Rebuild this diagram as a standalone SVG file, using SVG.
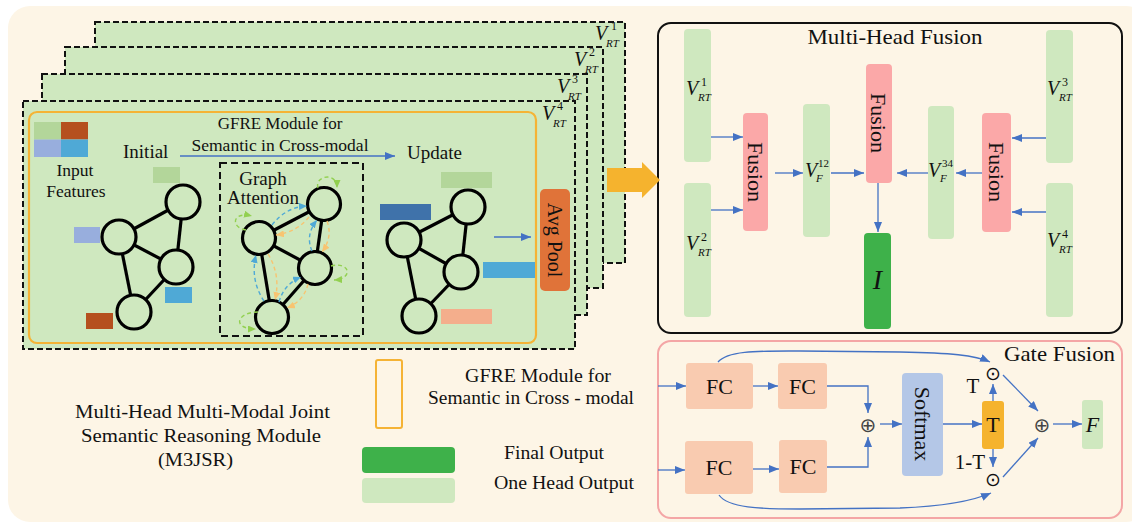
<svg xmlns="http://www.w3.org/2000/svg" width="1132" height="526" viewBox="0 0 1132 526">
<defs>
<style>
.t{font-family:"Liberation Serif","Times New Roman",serif;fill:#111}
.it{font-style:italic}
.panel{fill:#CFE8BF;stroke:#111;stroke-width:2;stroke-dasharray:6,3}
.node{fill:#CFE8BF;stroke:#000;stroke-width:3.2}
.edge{stroke:#000;stroke-width:3.2}
.bar{fill:#CFE8BF}
.fus{fill:#FBA8A8}
.fc{fill:#F9CBB0}
.ln{stroke:#4472C4;stroke-width:1.3;fill:none}
.bd{stroke-dasharray:4,3;stroke-width:1.4;fill:none}
</style>
<marker id="ab" markerUnits="userSpaceOnUse" markerWidth="10" markerHeight="8" refX="10" refY="4" orient="auto"><path d="M0,0 L10,4 L0,8 z" fill="#4472C4"/></marker>
<marker id="mb" markerUnits="userSpaceOnUse" markerWidth="8" markerHeight="7" refX="8" refY="3.5" orient="auto"><path d="M0,0 L8,3.5 L0,7 z" fill="#4FA9D6"/></marker>
<marker id="mo" markerUnits="userSpaceOnUse" markerWidth="8" markerHeight="7" refX="8" refY="3.5" orient="auto"><path d="M0,0 L8,3.5 L0,7 z" fill="#F8C471"/></marker>
<marker id="mg" markerUnits="userSpaceOnUse" markerWidth="8" markerHeight="7" refX="8" refY="3.5" orient="auto"><path d="M0,0 L8,3.5 L0,7 z" fill="#92D050"/></marker>
</defs>

<rect x="8" y="6" width="1140" height="516" rx="22" fill="#FDF5E6"/>

<g id="m3jsr-stack">
<rect class="panel" x="95" y="22" width="530" height="241"/>
<rect class="panel" x="65" y="47" width="538" height="241"/>
<rect class="panel" x="42" y="74" width="545" height="241"/>
<rect class="panel" x="23" y="101" width="552" height="248"/>
<text class="t it" x="595" y="40" font-size="20">V</text><text class="t" x="611" y="30" font-size="12">1</text><text class="t it" x="606" y="47" font-size="11">RT</text>
<text class="t it" x="574" y="66" font-size="20">V</text><text class="t" x="589" y="56" font-size="12">2</text><text class="t it" x="585" y="73" font-size="11">RT</text>
<text class="t it" x="557" y="93" font-size="20">V</text><text class="t" x="572" y="83" font-size="12">3</text><text class="t it" x="568" y="100" font-size="11">RT</text>
<text class="t it" x="542" y="120" font-size="20">V</text><text class="t" x="557" y="110" font-size="12">4</text><text class="t it" x="553" y="127" font-size="11">RT</text>
</g>

<g id="gfre-module">
<rect x="29" y="112" width="507" height="231" rx="8" fill="none" stroke="#F5B335" stroke-width="2.2"/>
<rect x="34" y="122" width="27" height="17.5" fill="#B3D69A"/>
<rect x="61" y="122" width="27" height="17.5" fill="#B5501E"/>
<rect x="34" y="139.5" width="27" height="17.5" fill="#98AEDD"/>
<rect x="61" y="139.5" width="27" height="17.5" fill="#4FA9D6"/>
<text class="t" x="75" y="176" font-size="17.5" text-anchor="middle">Input</text>
<text class="t" x="76" y="197" font-size="17.5" text-anchor="middle">Features</text>
<text class="t" x="123" y="158" font-size="19">Initial</text>
<text class="t" x="280" y="129" font-size="17" text-anchor="middle">GFRE Module for</text>
<text class="t" x="280" y="151" font-size="17" text-anchor="middle" textLength="177" lengthAdjust="spacingAndGlyphs">Semantic in Cross-modal</text>
<text class="t" x="407" y="159" font-size="19">Update</text>
</g>

<g id="initial-graph">
<rect x="153" y="167" width="27" height="16" fill="#B3D69A"/>
<rect x="74" y="227" width="26" height="16" fill="#98AEDD"/>
<rect x="165" y="287" width="27" height="16" fill="#4FA9D6"/>
<rect x="86" y="313" width="27" height="16" fill="#B5501E"/>
<line class="edge" x1="119" y1="237" x2="183" y2="202"/>
<line class="edge" x1="119" y1="237" x2="176" y2="267"/>
<line class="edge" x1="183" y1="202" x2="176" y2="267"/>
<line class="edge" x1="119" y1="237" x2="134" y2="312"/>
<line class="edge" x1="176" y1="267" x2="134" y2="312"/>
<circle cx="183" cy="202" r="17" class="node"/>
<circle cx="119" cy="237" r="17" class="node"/>
<circle cx="176" cy="267" r="17" class="node"/>
<circle cx="134" cy="312" r="17" class="node"/>
</g>

<g id="graph-attention">
<rect x="220" y="163" width="143" height="173" fill="none" stroke="#111" stroke-width="2" stroke-dasharray="7,4"/>
<text class="t" x="263" y="185" font-size="19" text-anchor="middle">Graph</text>
<text class="t" x="263" y="204" font-size="19" text-anchor="middle">Attention</text>
<line class="edge" x1="324" y1="204" x2="259" y2="238"/>
<line class="edge" x1="324" y1="204" x2="315" y2="268"/>
<line class="edge" x1="259" y1="238" x2="315" y2="268"/>
<line class="edge" x1="259" y1="238" x2="272" y2="317"/>
<line class="edge" x1="315" y1="268" x2="272" y2="317"/>
<circle cx="324" cy="204" r="16.5" class="node"/>
<circle cx="259" cy="238" r="16.5" class="node"/>
<circle cx="315" cy="268" r="16.5" class="node"/>
<circle cx="272" cy="317" r="16.5" class="node"/>
<path class="bd" stroke="#4FA9D6" d="M272,225 Q286,207 307,206" marker-end="url(#mb)"/>
<path class="bd" stroke="#F8C471" d="M309,217 Q297,232 276,235" marker-end="url(#mo)"/>
<path class="bd" stroke="#4FA9D6" d="M312,251 Q305,235 317,220" marker-end="url(#mb)"/>
<path class="bd" stroke="#F8C471" d="M327,221 Q333,237 322,252" marker-end="url(#mo)"/>
<path class="bd" stroke="#4FA9D6" d="M264,301 Q250,280 256,255" marker-end="url(#mb)"/>
<path class="bd" stroke="#F8C471" d="M268,254 Q281,275 275,300" marker-end="url(#mo)"/>
<path class="bd" stroke="#4FA9D6" d="M279,302 Q284,284 301,277" marker-end="url(#mb)"/>
<path class="bd" stroke="#F8C471" d="M308,284 Q304,301 287,308" marker-end="url(#mo)"/>
<path class="bd" stroke="#92D050" d="M318,188 C314,176 337,171 337,188" marker-end="url(#mg)"/>
<path class="bd" stroke="#92D050" d="M246,230 C231,228 231,211 252,216" marker-end="url(#mg)"/>
<path class="bd" stroke="#92D050" d="M331,266 C350,261 354,279 334,280" marker-end="url(#mg)"/>
<path class="bd" stroke="#92D050" d="M258,312 C237,312 231,329 256,329" marker-end="url(#mg)"/>
</g>

<g id="update-graph">
<rect x="441" y="172" width="51" height="16" fill="#B3D69A"/>
<rect x="380" y="204" width="51" height="16" fill="#3F72AA"/>
<rect x="483" y="262" width="52" height="16" fill="#4FA9D6"/>
<rect x="441" y="309" width="51" height="15" fill="#F4AE8C"/>
<line class="edge" x1="404" y1="240" x2="468" y2="207"/>
<line class="edge" x1="404" y1="240" x2="461" y2="272"/>
<line class="edge" x1="468" y1="207" x2="461" y2="272"/>
<line class="edge" x1="404" y1="240" x2="419" y2="316"/>
<line class="edge" x1="461" y1="272" x2="419" y2="316"/>
<circle cx="468" cy="207" r="17" class="node"/>
<circle cx="404" cy="240" r="17" class="node"/>
<circle cx="461" cy="272" r="17" class="node"/>
<circle cx="419" cy="316" r="17" class="node"/>
</g>

<g id="avg-pool">
<rect x="540" y="189" width="30" height="102" rx="5" fill="#E07339"/>
<text class="t" font-size="20" text-anchor="middle" transform="translate(548,240) rotate(90)">Avg Pool</text>
</g>

<g id="multi-head-fusion">
<rect x="658" y="23" width="464" height="310" rx="13" fill="#FDF5E6" stroke="#111" stroke-width="2"/>
<text class="t" x="895" y="44" font-size="21.5" text-anchor="middle" textLength="175" lengthAdjust="spacingAndGlyphs">Multi-Head Fusion</text>
</g>
<g id="v-rt-1"><rect class="bar" x="684" y="29" width="27" height="133" rx="4"/>
<text class="t it" x="686" y="95" font-size="20">V</text><text class="t" x="701" y="86" font-size="12">1</text><text class="t it" x="698" y="101" font-size="11">RT</text></g>
<g id="v-rt-2"><rect class="bar" x="684" y="183" width="27" height="134" rx="4"/>
<text class="t it" x="686" y="250" font-size="20">V</text><text class="t" x="701" y="241" font-size="12">2</text><text class="t it" x="698" y="256" font-size="11">RT</text></g>
<g id="fusion-12"><rect class="fus" x="743" y="113" width="25" height="118" rx="4"/>
<text class="t" font-size="22" text-anchor="middle" transform="translate(748,172) rotate(90)">Fusion</text></g>
<g id="v-f-12"><rect class="bar" x="803" y="104" width="27" height="133" rx="4"/>
<text class="t it" x="805" y="177" font-size="20">V</text><text class="t" x="818" y="167" font-size="11">12</text><text class="t it" x="816" y="182" font-size="11">F</text></g>
<g id="fusion-final"><rect class="fus" x="866" y="64" width="26" height="119" rx="4"/>
<text class="t" font-size="22" text-anchor="middle" transform="translate(871,123) rotate(90)">Fusion</text></g>
<g id="output-i"><rect x="864" y="233" width="27" height="96" rx="4" fill="#3EB14A"/>
<text class="t it" x="877.5" y="289" font-size="28" text-anchor="middle">I</text></g>
<g id="v-f-34"><rect class="bar" x="928" y="106" width="26" height="133" rx="4"/>
<text class="t it" x="928" y="177" font-size="20">V</text><text class="t" x="942" y="167" font-size="11">34</text><text class="t it" x="940" y="182" font-size="11">F</text></g>
<g id="fusion-34"><rect class="fus" x="982" y="113" width="29" height="119" rx="4"/>
<text class="t" font-size="22" text-anchor="middle" transform="translate(989,172) rotate(90)">Fusion</text></g>
<g id="v-rt-3"><rect class="bar" x="1046" y="30" width="27" height="133" rx="4"/>
<text class="t it" x="1047" y="95" font-size="20">V</text><text class="t" x="1062" y="86" font-size="12">3</text><text class="t it" x="1059" y="101" font-size="11">RT</text></g>
<g id="v-rt-4"><rect class="bar" x="1046" y="183" width="27" height="134" rx="4"/>
<text class="t it" x="1047" y="247" font-size="20">V</text><text class="t" x="1062" y="238" font-size="12">4</text><text class="t it" x="1059" y="253" font-size="11">RT</text></g>

<g id="gate-fusion">
<rect x="658" y="341" width="464" height="177" rx="13" fill="#FDF5E6" stroke="#F4A6A6" stroke-width="2"/>
<text class="t" x="1059.5" y="361" font-size="21.5" text-anchor="middle" textLength="111" lengthAdjust="spacingAndGlyphs">Gate Fusion</text>
</g>
<g id="fc-1"><rect class="fc" x="686" y="363" width="67" height="46" rx="3"/><text class="t" x="719.5" y="394" font-size="22" text-anchor="middle">FC</text></g>
<g id="fc-2"><rect class="fc" x="778" y="363" width="49" height="46" rx="3"/><text class="t" x="802.5" y="394" font-size="22" text-anchor="middle">FC</text></g>
<g id="fc-3"><rect class="fc" x="685" y="441" width="68" height="53" rx="3"/><text class="t" x="719" y="475" font-size="22" text-anchor="middle">FC</text></g>
<g id="fc-4"><rect class="fc" x="779" y="440" width="48" height="53" rx="3"/><text class="t" x="803" y="474" font-size="22" text-anchor="middle">FC</text></g>
<g id="add-1"><text x="868" y="432" font-size="20" text-anchor="middle" font-family="DejaVu Sans, sans-serif" fill="#444">⊕</text></g>
<g id="softmax"><rect x="902" y="373" width="41" height="103" rx="4" fill="#B4C7E7"/>
<text class="t" font-size="22" text-anchor="middle" transform="translate(915,424) rotate(90)">Softmax</text></g>
<g id="gate-t"><rect x="982" y="401" width="22" height="48" rx="3" fill="#F5B32E"/>
<text class="t" x="993" y="432" font-size="22" text-anchor="middle">T</text></g>
<g id="mul-top"><text x="993" y="380" font-size="19" text-anchor="middle" font-family="DejaVu Sans, sans-serif" fill="#111">⊙</text></g>
<g id="mul-bottom"><text x="993" y="486" font-size="19" text-anchor="middle" font-family="DejaVu Sans, sans-serif" fill="#111">⊙</text></g>
<g id="add-2"><text x="1042" y="432" font-size="20" text-anchor="middle" font-family="DejaVu Sans, sans-serif" fill="#444">⊕</text></g>
<g id="output-f"><rect x="1082" y="400" width="21" height="49" rx="3" fill="#CFE8BF"/>
<text class="t it" x="1092.5" y="432" font-size="22" text-anchor="middle">F</text></g>
<text class="t" x="973" y="393" font-size="21" text-anchor="middle">T</text>
<text class="t" x="970" y="469" font-size="21" text-anchor="middle">1-T</text>

<g id="legend">
<rect x="376" y="360" width="26" height="68" rx="2" fill="none" stroke="#F5B335" stroke-width="2"/>
<text class="t" x="538" y="382" font-size="18.5" text-anchor="middle" textLength="146" lengthAdjust="spacingAndGlyphs">GFRE Module for</text>
<text class="t" x="531" y="404" font-size="18.5" text-anchor="middle" textLength="206" lengthAdjust="spacingAndGlyphs">Semantic in Cross - modal</text>
<text class="t" x="202.5" y="418" font-size="19.5" text-anchor="middle" textLength="255" lengthAdjust="spacingAndGlyphs">Multi-Head Multi-Modal Joint</text>
<text class="t" x="201" y="442" font-size="19.5" text-anchor="middle" textLength="240" lengthAdjust="spacingAndGlyphs">Semantic Reasoning Module</text>
<text class="t" x="195.5" y="466" font-size="19.5" text-anchor="middle" textLength="75" lengthAdjust="spacingAndGlyphs">(M3JSR)</text>
<rect x="362" y="447" width="93" height="26" rx="4" fill="#3EB14A"/>
<rect x="362" y="478" width="93" height="25" rx="4" fill="#CFE8BF"/>
<text class="t" x="554" y="459" font-size="18.5" text-anchor="middle" textLength="100" lengthAdjust="spacingAndGlyphs">Final Output</text>
<text class="t" x="564" y="489" font-size="18.5" text-anchor="middle" textLength="140" lengthAdjust="spacingAndGlyphs">One Head Output</text>
</g>

<g id="connectors">
<line class="ln" x1="180" y1="156" x2="395" y2="156" stroke-width="2" marker-end="url(#ab)"/>
<line class="ln" x1="494" y1="237" x2="531" y2="237" marker-end="url(#ab)"/>
<polygon points="607,168 642,168 642,162 660,180 642,198 642,192 607,192" fill="#F5B32E"/>
<line class="ln" x1="711" y1="137" x2="743" y2="137" marker-end="url(#ab)"/>
<line class="ln" x1="711" y1="210" x2="743" y2="210" marker-end="url(#ab)"/>
<line class="ln" x1="775" y1="173" x2="803" y2="173" marker-end="url(#ab)"/>
<line class="ln" x1="831" y1="173" x2="864" y2="173" marker-end="url(#ab)"/>
<line class="ln" x1="878" y1="183" x2="878" y2="232" marker-end="url(#ab)"/>
<line class="ln" x1="928" y1="173" x2="897" y2="173" marker-end="url(#ab)"/>
<line class="ln" x1="982" y1="173" x2="956" y2="173" marker-end="url(#ab)"/>
<line class="ln" x1="1046" y1="138" x2="1012" y2="138" marker-end="url(#ab)"/>
<line class="ln" x1="1046" y1="212" x2="1012" y2="212" marker-end="url(#ab)"/>
<line class="ln" x1="658" y1="386" x2="686" y2="386" marker-end="url(#ab)"/>
<line class="ln" x1="753" y1="386" x2="778" y2="386" marker-end="url(#ab)"/>
<line class="ln" x1="658" y1="470" x2="685" y2="470" marker-end="url(#ab)"/>
<line class="ln" x1="753" y1="469" x2="779" y2="469" marker-end="url(#ab)"/>
<polyline class="ln" points="827,386 868,386 868,413" marker-end="url(#ab)"/>
<polyline class="ln" points="827,467 868,467 868,437" marker-end="url(#ab)"/>
<line class="ln" x1="880" y1="424" x2="902" y2="424" marker-end="url(#ab)"/>
<line class="ln" x1="943" y1="424" x2="982" y2="424" marker-end="url(#ab)"/>
<line class="ln" x1="993" y1="401" x2="993" y2="384" marker-end="url(#ab)"/>
<line class="ln" x1="993" y1="449" x2="993" y2="467" marker-end="url(#ab)"/>
<line class="ln" x1="1003" y1="375" x2="1038" y2="411" marker-end="url(#ab)"/>
<line class="ln" x1="1003" y1="477" x2="1038" y2="438" marker-end="url(#ab)"/>
<line class="ln" x1="1053" y1="424" x2="1082" y2="424" marker-end="url(#ab)"/>
<path class="ln" d="M718,362 C728,350 760,351 800,351 L900,352 C950,353 975,355 990,362" marker-end="url(#ab)"/>
<path class="ln" d="M719,495 C728,508 760,509 800,509 L900,508 C950,506 975,500 991,493" marker-end="url(#ab)"/>
</g>
</svg>
